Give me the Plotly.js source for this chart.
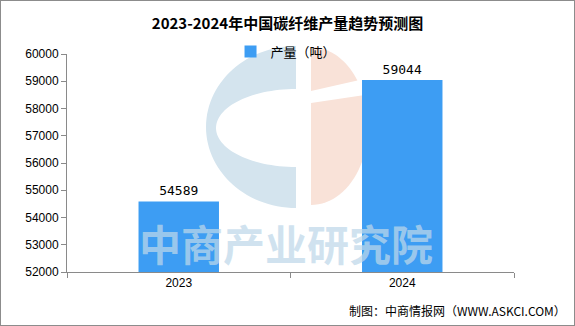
<!DOCTYPE html>
<html><head><meta charset="utf-8">
<script src="https://cdn.plot.ly/plotly-3.0.1.min.js"></script>
<style>
html,body{margin:0;padding:0;background:#fff;}
#frame{width:573px;height:324px;border:1px solid #8c8c8c;background:#fff;}
#chart{width:573px;height:324px;}
</style></head>
<body><div id="frame"><div id="chart"></div></div>
<script>
const categories = ["2023", "2024"];
const production = [54589, 59044];
const seriesName = "产量（吨）";
const yTicks = [52000, 53000, 54000, 55000, 56000, 57000, 58000, 59000, 60000];

const trace = {
  type: "bar",
  x: categories,
  y: production,
  name: seriesName,
  marker: {color: "#3d9df3"},
  width: 0.36,
  text: production.map(String),
  textposition: "outside",
  cliponaxis: false,
  textfont: {family: "DejaVu Sans Mono, Liberation Mono, monospace", size: 13, color: "#000"},
  showlegend: true
};

// watermark logo (decorative), in paper coordinates
function px2x(px){ return (px - 67) / (514 - 67); }
function px2y(py){ return (272 - py) / (272 - 54); }
function ellipsePath(cx, cy, rx, ry, a0, a1, n){
  let pts = [];
  for (let i = 0; i <= n; i++){
    const a = a0 + (a1 - a0) * i / n;
    pts.push([cx + rx * Math.cos(a), cy + ry * Math.sin(a)]);
  }
  return pts;
}
function toPath(pts){
  return pts.map((p, i) => (i ? "L" : "M") + px2x(p[0]).toFixed(4) + "," + px2y(p[1]).toFixed(4)).join(" ") + " Z";
}
const leftOuter = ellipsePath(296, 127, 90, 81, -Math.PI/2, -3*Math.PI/2, 60);
const leftInner = ellipsePath(296, 128, 80, 39, Math.PI/2, 3*Math.PI/2, 60);
const leftPts = leftOuter.concat(leftInner);
const rightUpper = [[311,47]].concat(ellipsePath(311, 127, 57, 80, -Math.PI/2, -0.62, 20)).concat([[311,91]]);
const rightLower = [[311,103]].concat(ellipsePath(311, 127, 57, 78, -0.42, Math.PI/2, 30)).concat([[311,205]]);

const shapes = [
  {type: "path", xref: "paper", yref: "paper", path: toPath(leftPts), fillcolor: "#d4e4ee", line: {width: 0}, layer: "below"},
  {type: "path", xref: "paper", yref: "paper", path: toPath(rightUpper), fillcolor: "#f9e2d8", line: {width: 0}, layer: "below"},
  {type: "path", xref: "paper", yref: "paper", path: toPath(rightLower), fillcolor: "#f9e2d8", line: {width: 0}, layer: "below"}
];

const layout = {
  width: 573, height: 324,
  margin: {l: 66, r: 60, t: 53, b: 53},
  paper_bgcolor: "#ffffff",
  plot_bgcolor: "rgba(0,0,0,0)",
  title: {text: "<b>2023-2024年中国碳纤维产量趋势预测图</b>", x: 0.5, xanchor: "center", y: 0.93, yanchor: "middle",
    font: {family: "Noto Sans CJK SC, serif", size: 15, color: "#000"}},
  xaxis: {
    type: "category",
    showline: true, linecolor: "#8a8a8a", linewidth: 1,
    ticks: "outside", tickson: "boundaries", ticklen: 5, tickcolor: "#8a8a8a",
    showgrid: false, zeroline: false,
    tickfont: {family: "Liberation Sans, Arial, sans-serif", size: 12, color: "#000"}
  },
  yaxis: {
    range: [52000, 60000], tickvals: yTicks, ticktext: yTicks.map(String),
    showline: true, linecolor: "#8a8a8a", linewidth: 1,
    ticks: "outside", ticklen: 5, tickcolor: "#8a8a8a",
    showgrid: false, zeroline: false,
    tickfont: {family: "Liberation Sans, Arial, sans-serif", size: 12, color: "#000"}
  },
  legend: {orientation: "h", x: 0.49, xanchor: "center", y: 1.08, yanchor: "top",
    font: {family: "Noto Sans CJK SC, sans-serif", size: 13, color: "#000"},
    bgcolor: "rgba(0,0,0,0)", itemwidth: 30},
  bargap: 0.64,
  shapes: shapes,
  annotations: [
    {text: "<b>中商产业研究院</b>", xref: "paper", yref: "paper", x: px2x(286), y: px2y(242), xanchor: "center", yanchor: "middle",
     showarrow: false, font: {family: "Noto Sans CJK SC, sans-serif", size: 42, color: "rgba(190,216,234,0.72)"}},
    {text: "制图：中商情报网（WWW.ASKCI.COM）", xref: "paper", yref: "paper", x: px2x(568), y: px2y(310), xanchor: "right", yanchor: "middle",
     showarrow: false, font: {family: "Noto Sans CJK SC, sans-serif", size: 12, color: "#000"}}
  ]
};

Plotly.newPlot("chart", [trace], layout, {displayModeBar: false, staticPlot: true});
</script></body></html>
